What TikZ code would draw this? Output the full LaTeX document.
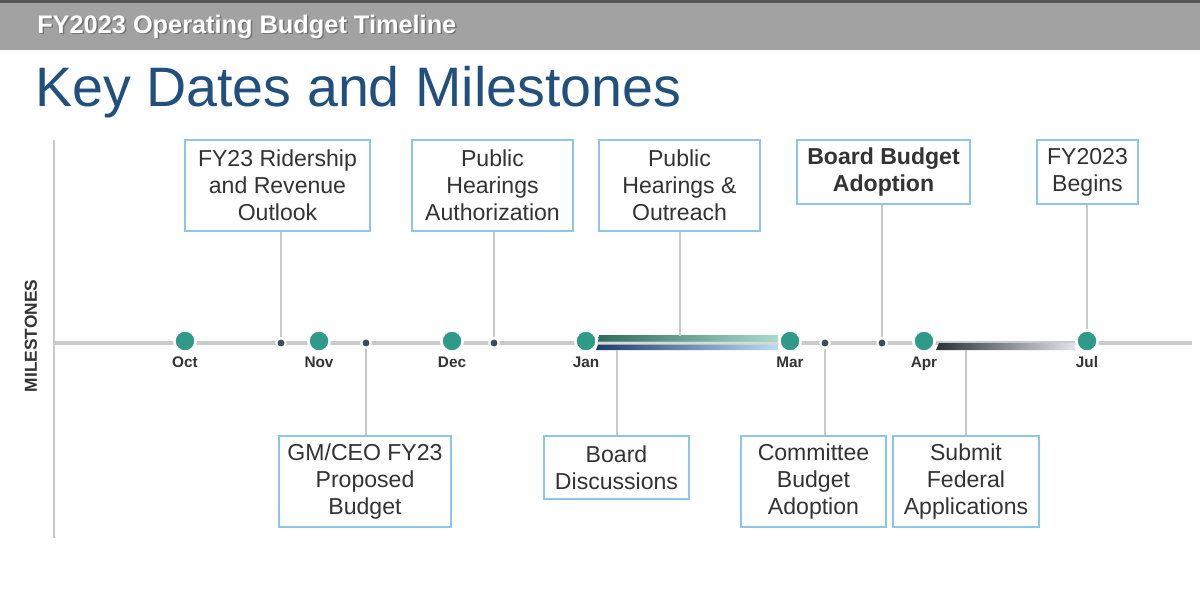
\documentclass[tikz,border=0pt]{standalone}
\usepackage{fontspec}
\setmainfont{Liberation Sans}
\definecolor{tealc}{HTML}{2F9A87}
\definecolor{navy}{HTML}{3E4A62}
\definecolor{boxb}{HTML}{8DC6EA}
\definecolor{txt}{HTML}{333333}
\definecolor{ttl}{HTML}{22507E}
\definecolor{lgray}{HTML}{CACACA}
\definecolor{hdr}{HTML}{A2A2A2}
\definecolor{hdrdark}{HTML}{555555}
\definecolor{gtA}{HTML}{2E6D5D}
\definecolor{gtB}{HTML}{A8DDCE}
\definecolor{gmid}{HTML}{D8D8D8}
\definecolor{gbA}{HTML}{1D3D6B}
\definecolor{gbB}{HTML}{BADCF5}
\definecolor{gkA}{HTML}{2B3038}
\definecolor{gkB}{HTML}{E2E4EA}
\begin{document}
\begin{tikzpicture}[x=0.75pt,y=-0.75pt,
  box/.style={draw=boxb,line width=1.1pt,fill=white,align=center,text=txt,
    font=\fontsize{17.3}{20.3}\selectfont,inner sep=0pt},
  tall/.style={minimum height=68.25pt},
  short/.style={minimum height=48pt},
  mon/.style={circle,fill=tealc,draw=white,line width=2pt,minimum size=16pt,inner sep=0pt},
  tick/.style={circle,fill=navy,draw=white,line width=1.5pt,minimum size=7pt,inner sep=0pt},
  mlabel/.style={font=\bfseries\fontsize{11.5}{13}\selectfont,text=txt,anchor=base,inner sep=0pt},
  conn/.style={draw=lgray,line width=1.5pt}]
\useasboundingbox (0,0) rectangle (1200,611);
% header
\fill[hdr] (0,3) rectangle (1200,50);
\fill[hdrdark] (0,0) rectangle (1200,3);
\node[anchor=base west,text=black!55,font=\bfseries\fontsize{19}{21}\selectfont,inner sep=0pt] (hdrshadow) at (38.5,34.5) {FY2023 Operating Budget Timeline};
\node[anchor=base west,text=white,font=\bfseries\fontsize{19}{21}\selectfont,inner sep=0pt] (hdrtext) at (37,33) {FY2023 Operating Budget Timeline};
\node[anchor=base west,text=ttl,font=\fontsize{41.7}{46}\selectfont,inner sep=0pt] (title) at (35,106) {Key Dates and Milestones};
% axis
\coordinate (axtop) at (54,140);
\coordinate (axbot) at (54,538);
\coordinate (tlL) at (54,343);
\coordinate (tlR) at (1192,343);
\draw[draw=lgray,line width=1pt] (axtop) -- (axbot);
\node[rotate=90,font=\bfseries\fontsize{13}{15}\selectfont,text=txt] (milestones) at (31,336) {MILESTONES};
\draw[draw=lgray,line width=3pt] (tlL) -- (tlR);
% gradient bars
\shade[left color=gtA,right color=gtB] (599,335) -- (778,335) -- (778,341.5) -- (598,341.5) -- cycle;
\fill[gmid] (598,341.5) rectangle (778,344.5);
\shade[left color=gbA,right color=gbB] (598,344.5) -- (778,344.5) -- (778,350) -- (596,350) -- cycle;
\shade[left color=gkA,right color=gkB] (939,343) -- (1075,343) -- (1075,350) -- (936,350) -- cycle;
\coordinate (barA) at (680,336);
\coordinate (barB) at (617,350);
\coordinate (barC) at (966,350);
% month markers
\node[mon] (oct) at (185,341) {};
\node[mon] (nov) at (319,341) {};
\node[mon] (dec) at (452,341) {};
\node[mon] (jan) at (586,341) {};
\node[mon] (mar) at (790,341) {};
\node[mon] (apr) at (924,341) {};
\node[mon] (jul) at (1087,341) {};
\node[mlabel] (loct) at (185,367) {Oct};
\node[mlabel] (lnov) at (319,367) {Nov};
\node[mlabel] (ldec) at (452,367) {Dec};
\node[mlabel] (ljan) at (586,367) {Jan};
\node[mlabel] (lmar) at (790,367) {Mar};
\node[mlabel] (lapr) at (924,367) {Apr};
\node[mlabel] (ljul) at (1087,367) {Jul};
% small dots
\node[tick] (d1) at (281,343) {};
\node[tick] (d2) at (366,343) {};
\node[tick] (d3) at (494,343) {};
\node[tick] (d4) at (825,343) {};
\node[tick] (d5) at (882,343) {};
% boxes top
\node[box,tall,minimum width=138.75pt] (ridership) at (277.5,185.5) {FY23 Ridership\\and Revenue\\Outlook};
\node[box,tall,minimum width=120.75pt] (phauth) at (492.5,185.5) {Public\\Hearings\\Authorization};
\node[box,tall,minimum width=120.75pt] (phout) at (679.5,185.5) {Public\\Hearings \&\\Outreach};
\node[box,short,minimum width=129.75pt,font=\bfseries\fontsize{17.3}{20.3}\selectfont] (bba) at (883.5,172) {Board Budget\\Adoption};
\node[box,short,minimum width=75.75pt] (begins) at (1087.5,172) {FY2023\\Begins};
% boxes bottom
\node[box,tall,minimum width=129pt] (gm) at (365,481.5) {GM/CEO FY23\\Proposed\\Budget};
\node[box,minimum height=47.25pt,minimum width=108.75pt] (bd) at (616.5,467.5) {Board\\Discussions};
\node[box,tall,minimum width=108.75pt] (cba) at (813.5,481.5) {Committee\\Budget\\Adoption};
\node[box,tall,minimum width=109.5pt] (sfa) at (966,481.5) {Submit\\Federal\\Applications};
% connectors
\draw[conn] (ridership.south -| d1) -- (d1.north);
\draw[conn] (phauth.south -| d3) -- (d3.north);
\draw[conn] (phout.south -| barA) -- (barA);
\draw[conn] (bba.south -| d5) -- (d5.north);
\draw[conn] (begins.south -| jul) -- (jul.north);
\draw[conn] (d2.south) -- (gm.north -| d2);
\draw[conn] (barB) -- (bd.north -| barB);
\draw[conn] (d4.south) -- (cba.north -| d4);
\draw[conn] (barC) -- (sfa.north -| barC);
\end{tikzpicture}
\end{document}
